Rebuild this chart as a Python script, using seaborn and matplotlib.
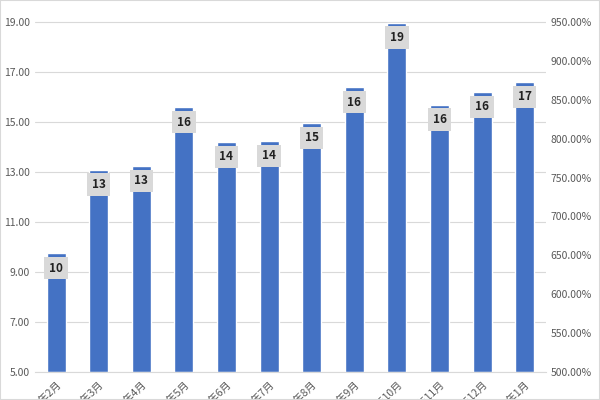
import pandas as pd
import matplotlib.pyplot as plt
import seaborn as sns
from matplotlib.ticker import FuncFormatter

months = ["2023年2月", "2023年3月", "2023年4月", "2023年5月", "2023年6月", "2023年7月",
          "2023年8月", "2023年9月", "2023年10月", "2023年11月", "2023年12月", "2024年1月"]
values = [9.76, 13.1, 13.25, 15.6, 14.2, 14.25, 14.96, 16.4, 18.98, 15.7, 16.2, 16.6]
right_ticks = [5.0, 5.5, 6.0, 6.5, 7.0, 7.5, 8.0, 8.5, 9.0, 9.5]

df = pd.DataFrame({"month": months, "value": values})

sns.set_style("white")
plt.rcParams['font.family'] = ['Noto Sans CJK SC', 'DejaVu Sans']

fig = plt.figure(figsize=(6, 4), dpi=100)
ax = fig.add_axes([0.058, 0.07, 0.852, 0.89])
base = 5.0
sns.barplot(data=df, x="month", y=[v - base for v in values], bottom=base,
            color="#4472C4", width=0.45, saturation=1, ax=ax)
ax.set_ylim(5, 19.24)
ax.set_yticks([5, 7, 9, 11, 13, 15, 17, 19])
ax.yaxis.set_major_formatter(FuncFormatter(lambda v, p: f"{v:.2f}"))
ax.grid(axis="y", color="#d9d9d9", lw=0.8)
ax.set_axisbelow(True)
for s in ["top", "right", "left"]:
    ax.spines[s].set_visible(False)
ax.spines["bottom"].set_color("#d9d9d9")
ax.tick_params(axis="y", length=0, labelsize=7.5, labelcolor="#595959")
ax.tick_params(axis="x", length=0, labelsize=7.5, labelcolor="#595959", pad=5)
plt.setp(ax.get_xticklabels(), rotation=45, ha="right", rotation_mode="anchor")
ax.set_xlabel("")
ax.set_ylabel("")

for i, v in enumerate(values):
    ax.text(i, v - 0.6, f"{round(v):d}", ha="center", va="center", fontsize=8.5,
            fontweight="bold", color="#222222",
            bbox=dict(boxstyle="square,pad=0.4", fc="#d9d9d9", ec="none"))

ax2 = ax.twinx()
ax2.set_ylim(5.0, 9.577)
ax2.set_yticks(right_ticks)
ax2.yaxis.set_major_formatter(FuncFormatter(lambda v, p: f"{v * 100:.2f}%"))
ax2.tick_params(axis="y", length=0, labelsize=7.5, labelcolor="#595959")
for s in ["top", "right", "left", "bottom"]:
    ax2.spines[s].set_visible(False)

fig.patches.append(plt.Rectangle((0, 0), 1, 1, transform=fig.transFigure,
                                 fill=False, ec="#d9d9d9", lw=1.5))
fig.savefig("out.png", dpi=100)
